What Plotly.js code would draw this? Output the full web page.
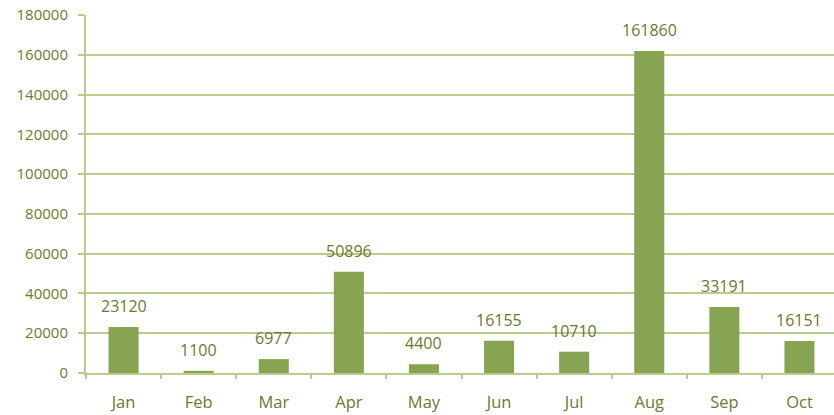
<!DOCTYPE html>
<html><head><meta charset="utf-8">
<script src="https://cdn.plot.ly/plotly-3.0.1.min.js"></script>
<style>html,body{margin:0;padding:0;background:#fff}</style>
</head><body><div id="chart" style="width:834px;height:415px"></div>
<script>
const months = ["Jan","Feb","Mar","Apr","May","Jun","Jul","Aug","Sep","Oct"];
const values = [23120,1100,6977,50896,4400,16155,10710,161860,33191,16151];
const yTicks = [0,20000,40000,60000,80000,100000,120000,140000,160000,180000];

const textColor = "#6b7a2c";
const barColor = "#87a453";
const gridColor = "#b8cc8c";
const font = "'Open Sans', sans-serif";

const annotations = months.map((m,i)=>({
  x: m, y: values[i], xref:'x', yref:'y', text: String(values[i]),
  showarrow:false, yanchor:'middle', yshift:21,
  font:{family:font,size:16,color:textColor}
}));

Plotly.newPlot('chart',[{
  type:'bar', x:months, y:values, width:0.4,
  marker:{color:barColor}, hoverinfo:'none'
}],{
  width:834,height:415,
  margin:{l:86,r:0,t:15,b:42},
  paper_bgcolor:'#fff',plot_bgcolor:'#fff',
  showlegend:false,
  xaxis:{
    range:[-0.5,9.46], showline:true, linecolor:gridColor, linewidth:2,
    ticks:'outside', tickson:'boundaries', ticklen:4, tickcolor:gridColor, tickwidth:2,
    showgrid:false, ticklabelstandoff:13,
    tickfont:{family:font,size:16.5,color:textColor}
  },
  yaxis:{
    range:[0,180000], tickvals:yTicks, ticktext:yTicks.map(String),
    showline:true, linecolor:gridColor, linewidth:2,
    ticks:'outside', ticklen:6, tickcolor:gridColor, tickwidth:2,
    gridcolor:gridColor, gridwidth:2, zeroline:false,
    ticklabelstandoff:7,
    tickfont:{family:font,size:15,color:textColor}
  },
  annotations:annotations
},{staticPlot:true});
</script></body></html>
